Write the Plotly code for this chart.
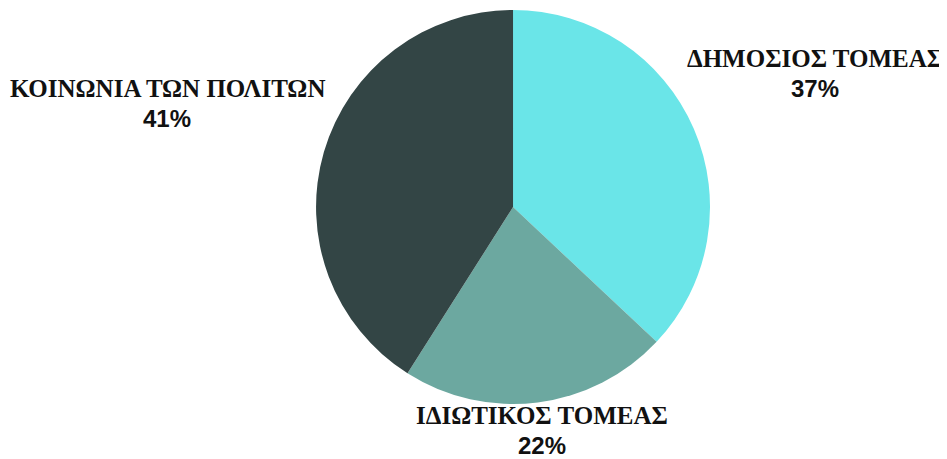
import plotly.graph_objects as go

categories = ["ΔΗΜΟΣΙΟΣ ΤΟΜΕΑΣ", "ΙΔΙΩΤΙΚΟΣ ΤΟΜΕΑΣ", "ΚΟΙΝΩΝΙΑ ΤΩΝ ΠΟΛΙΤΩΝ"]
values = [37, 22, 41]
colors = ["#6AE5E8", "#6CA8A0", "#334545"]

# label anchor positions (figure pixels from top-left) for the name line
label_pos = [(807, 50), (534, 407), (159, 80)]

W, H = 947, 459

fig = go.Figure(go.Pie(
    labels=categories,
    values=values,
    marker=dict(colors=colors, line=dict(width=0)),
    sort=False,
    direction="clockwise",
    rotation=0,
    textinfo="none",
    hoverinfo="label+percent",
    domain=dict(x=[0.3253, 0.7413], y=[0.1373, 0.9956]),
    showlegend=False,
))

total = sum(values)
annotations = []
for cat, val, (px, py) in zip(categories, values, label_pos):
    annotations.append(dict(
        x=px / W, y=1 - py / H, xref="paper", yref="paper",
        text="<b>%s</b>" % cat, showarrow=False,
        xanchor="center", yanchor="middle",
        font=dict(family="Liberation Serif", size=25, color="#111111"),
    ))
    annotations.append(dict(
        x=px / W, y=1 - (py + 30) / H, xref="paper", yref="paper",
        text="<b>%d%%</b>" % round(val / total * 100), showarrow=False,
        xanchor="center", yanchor="middle",
        font=dict(family="Liberation Sans", size=24, color="#111111"),
    ))

fig.update_layout(
    width=W, height=H,
    margin=dict(l=0, r=0, t=0, b=0),
    paper_bgcolor="white",
    plot_bgcolor="white",
    annotations=annotations,
)

fig.write_html("out.html")
